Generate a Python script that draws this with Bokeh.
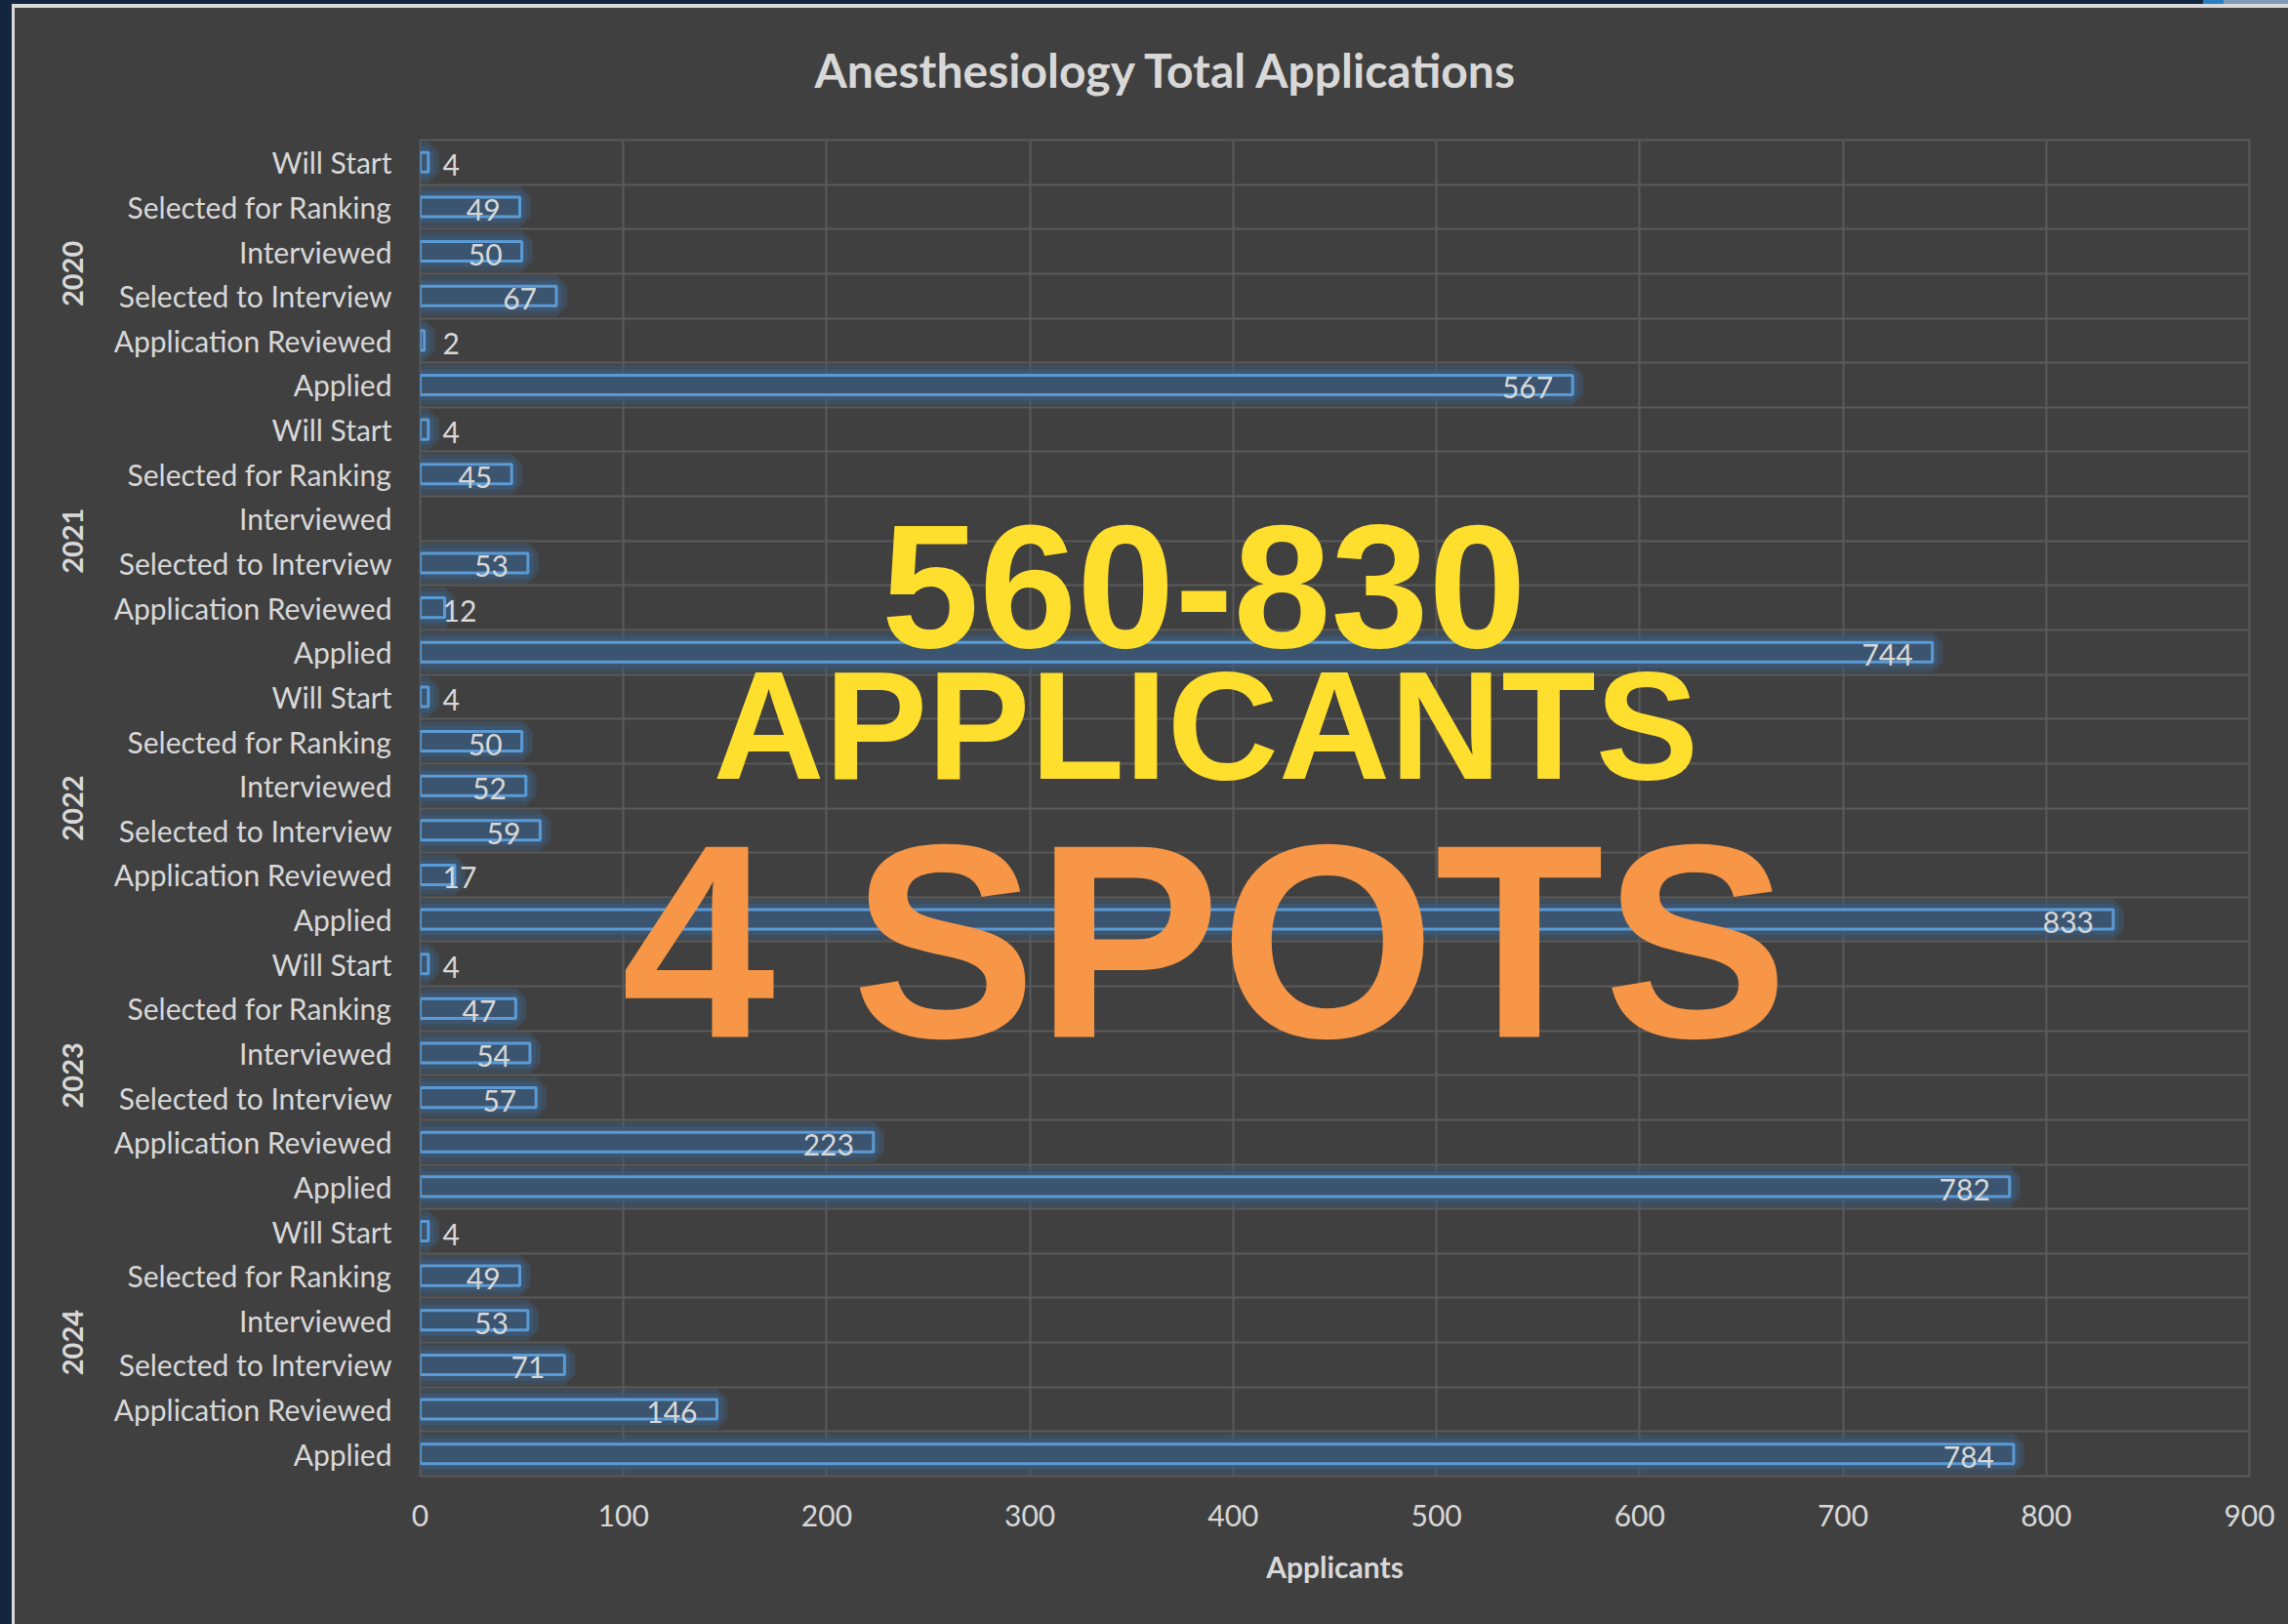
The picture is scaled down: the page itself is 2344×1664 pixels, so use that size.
from bokeh.plotting import figure
from bokeh.models import ColumnDataSource, FactorRange, FixedTicker, Range1d, Label
from bokeh.core.properties import value
from bokeh.embed import file_html
from bokeh.resources import INLINE

try:
    from bokeh.models import InlineStyleSheet
except Exception:
    InlineStyleSheet = None

# ---------------- data ----------------
years = ["2020", "2021", "2022", "2023", "2024"]
# top-to-bottom order inside each year block
stages = ["Will Start", "Selected for Ranking", "Interviewed",
          "Selected to Interview", "Application Reviewed", "Applied"]
counts_2020 = [4, 49, 50, 67, 2, 567]
counts_2021 = [4, 45, None, 53, 12, 744]
counts_2022 = [4, 50, 52, 59, 17, 833]
counts_2023 = [4, 47, 54, 57, 223, 782]
counts_2024 = [4, 49, 53, 71, 146, 784]
x_ticks = [0, 100, 200, 300, 400, 500, 600, 700, 800, 900]
title_text = "Anesthesiology Total Applications"
x_title = "Applicants"
overlay_range = "560-830"
overlay_word = "APPLICANTS"
overlay_spots = "4 SPOTS"

counts = {"2020": counts_2020, "2021": counts_2021, "2022": counts_2022,
          "2023": counts_2023, "2024": counts_2024}

# ---------------- styles ----------------
BG = "#404040"
GRID = "#5a5a5a"
TEXT = "#d8d8d8"
BAR_FILL = "#3b5570"
BAR_LINE = "#5b9bd5"
GLOW = "#3d5a78"
YELLOW = "#ffdf2e"
ORANGE = "#f79646"
NAVY = "#142540"
LIGHT = "#d9d9d9"
FONT = "Lato"

# factors listed bottom-to-top for Bokeh
factors = [(y, s) for y in reversed(years) for s in reversed(stages)]

bar_cat, bar_val = [], []
in_cat, in_val, in_txt = [], [], []
out_cat, out_txt = [], []
for y in years:
    for s, v in zip(stages, counts[y]):
        if v is None:
            continue
        bar_cat.append((y, s))
        bar_val.append(v)
        if v >= 30:
            in_cat.append((y, s)); in_val.append(v); in_txt.append(str(v))
        else:
            out_cat.append((y, s)); out_txt.append(str(v))

bars = ColumnDataSource(dict(cat=bar_cat, val=bar_val))
lab_in = ColumnDataSource(dict(cat=in_cat, val=in_val, txt=in_txt))
lab_out = ColumnDataSource(dict(cat=out_cat, val=[0] * len(out_cat), txt=out_txt))

W, H = 2344, 1664
p = figure(width=W, height=H,
           x_range=Range1d(x_ticks[0], x_ticks[-1]),
           y_range=FactorRange(factors=factors, factor_padding=0, group_padding=0,
                               subgroup_padding=0, range_padding=0),
           output_backend="svg", toolbar_location=None,
           background_fill_color=BG, border_fill_color=BG,
           min_border_left=430, min_border_right=40,
           min_border_top=143, min_border_bottom=152)

# slide frame strips (top and left edge of the screenshot)
if InlineStyleSheet is not None:
    css = (
        ":host { position: relative; }\n"
        ":host::before { content: ''; position: absolute; left: 0; top: 0; "
        "width: 100%; height: 8px; z-index: 50; pointer-events: none; "
        "background: linear-gradient(to right, transparent 2257px, #2a7fc0 2257px, "
        "#2a7fc0 2278px, #7f9cb8 2278px) top left / 100% 4px no-repeat, "
        f"linear-gradient(to bottom, {NAVY} 0px, {NAVY} 4px, {LIGHT} 4px, {LIGHT} 8px); }}\n"
        ":host::after { content: ''; position: absolute; left: 0; top: 4px; "
        "width: 15px; height: calc(100% - 4px); z-index: 51; pointer-events: none; "
        f"background: linear-gradient(to right, {NAVY} 0px, {NAVY} 12px, {LIGHT} 12px, {LIGHT} 15px); }}\n"
    )
    p.stylesheets = [InlineStyleSheet(css=css)]

p.outline_line_color = GRID
p.outline_line_width = 2

# grid
p.xgrid.ticker = FixedTicker(ticks=x_ticks)
p.xgrid.grid_line_color = GRID
p.xgrid.grid_line_width = 2
p.ygrid.ticker = FixedTicker(ticks=list(range(len(factors) + 1)))
p.ygrid.grid_line_color = GRID
p.ygrid.grid_line_width = 2

# bars with glow
p.hbar(y="cat", left=0, right="val", height=0.44, source=bars,
       fill_color=None, line_color=GLOW, line_alpha=0.45, line_width=22)
p.hbar(y="cat", left=0, right="val", height=0.44, source=bars,
       fill_color=None, line_color=GLOW, line_alpha=0.7, line_width=12)
p.hbar(y="cat", left=0, right="val", height=0.44, source=bars,
       fill_color=BAR_FILL, line_color=BAR_LINE, line_width=3)

# value labels
p.text(x="val", y="cat", text="txt", source=lab_in,
       text_font=value(FONT), text_font_size="30px", text_color=TEXT,
       text_align="right", text_baseline="middle", x_offset=-20, y_offset=3)
p.text(x="val", y="cat", text="txt", source=lab_out,
       text_font=value(FONT), text_font_size="30px", text_color=TEXT,
       text_align="left", text_baseline="middle", x_offset=23, y_offset=3)

# axes
xa = p.xaxis[0]
xa.ticker = FixedTicker(ticks=x_ticks)
xa.axis_line_color = None
xa.major_tick_line_color = None
xa.minor_tick_line_color = None
xa.major_tick_out = 0
xa.major_tick_in = 0
xa.major_label_standoff = 29
xa.major_label_text_font = FONT
xa.major_label_text_font_size = "30px"
xa.major_label_text_color = TEXT
xa.axis_label = x_title
xa.axis_label_text_font = FONT
xa.axis_label_text_font_size = "30px"
xa.axis_label_text_font_style = "bold"
xa.axis_label_text_color = TEXT
xa.axis_label_standoff = 20

ya = p.yaxis[0]
ya.axis_line_color = None
ya.major_tick_line_color = None
ya.minor_tick_line_color = None
ya.major_tick_out = 0
ya.major_tick_in = 0
ya.major_label_standoff = 29
ya.major_label_text_font = FONT
ya.major_label_text_font_size = "30px"
ya.major_label_text_color = TEXT
ya.group_text_font = FONT
ya.group_text_font_size = "29px"
ya.group_text_font_style = "bold"
ya.group_text_color = TEXT
ya.separator_line_color = None

# title
p.title.text = title_text
p.title.text_font = FONT
p.title.text_font_size = "48px"
p.title.text_font_style = "bold"
p.title.text_color = TEXT
p.title.align = "left"
p.title.vertical_align = "top"
p.title.offset = 404
p.title.standoff = 83

# overlay annotations (positions in data space of the chart)
for txt, xv, yv, size, col in [
    (overlay_range, 385.6, 19.98, "180px", YELLOW),
    (overlay_word, 386.5, 16.86, "158px", YELLOW),
    (overlay_spots, 386.0, 12.01, "283px", ORANGE),
]:
    p.add_layout(Label(x=xv, y=yv, text=txt, text_font="Liberation Sans",
                       text_font_style="bold", text_font_size=size,
                       text_color=col, text_align="center",
                       text_baseline="middle"))

open("out.html", "w").write(file_html(p, INLINE))
